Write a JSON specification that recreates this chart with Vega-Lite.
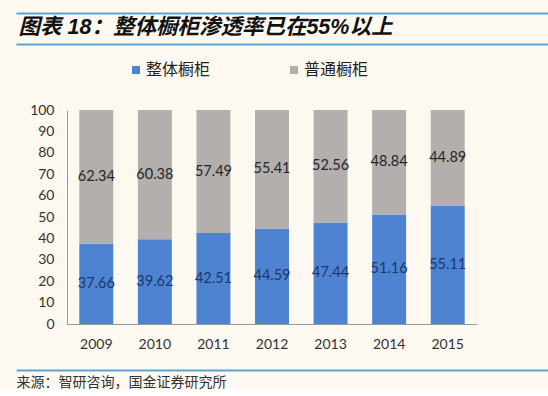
{
  "$schema": "https://vega.github.io/schema/vega-lite/v6.json",
  "background": "#fdf9f1",
  "padding": {"left": 16, "top": 13, "right": 0, "bottom": 0},
  "config": {"view": {"stroke": null}},
  "spacing": 18,
  "vconcat": [
    {
      "width": 532,
      "height": 31,
      "data": {"values": []},
      "mark": "rule",
      "encoding": {
        "y": {
          "field": "w", "type": "quantitative", "scale": {"domain": [0, 1]},
          "axis": {
            "values": [0, 1], "grid": true, "gridColor": "#55a6d6", "gridWidth": 2, "gridOpacity": 1,
            "labels": false, "ticks": false, "domain": false, "title": null,
            "minExtent": 0, "maxExtent": 0
          }
        },
        "x": {
          "field": "v", "type": "quantitative", "scale": {"domain": [0, 1]},
          "axis": {
            "orient": "bottom", "domain": false,
            "ticks": false, "labels": false, "grid": false,
            "title": "图表 18：整体橱柜渗透率已在55%以上",
            "titleAnchor": "start", "titleAlign": "left", "titleBaseline": "middle",
            "titleX": 2, "titleY": -17,
            "titleFont": "Liberation Sans, Noto Sans CJK SC", "titleFontSize": 21.5,
            "titleFontWeight": "bold", "titleFontStyle": "italic", "titleColor": "#111111"
          }
        }
      }
    },
    {
      "resolve": {"scale": {"color": "independent"}, "legend": {"color": "independent"}},
      "hconcat": [
        {
          "width": 461,
          "height": 214,
          "data": {
            "values": [
              {"year": "2009", "type": "整体橱柜", "value": 37.66},
              {"year": "2009", "type": "普通橱柜", "value": 62.34},
              {"year": "2010", "type": "整体橱柜", "value": 39.62},
              {"year": "2010", "type": "普通橱柜", "value": 60.38},
              {"year": "2011", "type": "整体橱柜", "value": 42.51},
              {"year": "2011", "type": "普通橱柜", "value": 57.49},
              {"year": "2012", "type": "整体橱柜", "value": 44.59},
              {"year": "2012", "type": "普通橱柜", "value": 55.41},
              {"year": "2013", "type": "整体橱柜", "value": 47.44},
              {"year": "2013", "type": "普通橱柜", "value": 52.56},
              {"year": "2014", "type": "整体橱柜", "value": 51.16},
              {"year": "2014", "type": "普通橱柜", "value": 48.84},
              {"year": "2015", "type": "整体橱柜", "value": 55.11},
              {"year": "2015", "type": "普通橱柜", "value": 44.89}
            ]
          },
          "encoding": {
            "x": {
              "field": "year", "type": "ordinal",
              "scale": {"range": [51, 461], "paddingInner": 0.42, "paddingOuter": 0.21},
              "axis": {
                "labelAngle": 0, "labelFont": "Lato", "labelFontSize": 14, "labelColor": "#333333",
                "labelPadding": 13, "ticks": false, "domainColor": "#9a9a9a", "domainWidth": 1,
                "title": null, "grid": false
              }
            }
          },
          "layer": [
            {
              "mark": {"type": "bar"},
              "encoding": {
                "y": {
                  "field": "value", "type": "quantitative", "stack": "zero",
                  "scale": {"domain": [0, 100]},
                  "axis": {
                    "values": [0, 10, 20, 30, 40, 50, 60, 70, 80, 90, 100],
                    "labelFont": "Lato", "labelFontSize": 14, "labelColor": "#333333",
                    "labelPadding": 13, "labelOverlap": false, "ticks": false, "domainColor": "#9a9a9a",
                    "grid": false, "title": null, "offset": -51
                  }
                },
                "order": {"field": "type", "sort": "ascending"},
                "color": {
                  "field": "type", "type": "nominal",
                  "scale": {"domain": ["整体橱柜", "普通橱柜"], "range": ["#4e83d2", "#b2afad"]},
                  "legend": {
                    "title": null, "orient": "none", "legendX": 112, "legendY": -48,
                    "direction": "horizontal", "symbolType": "square", "symbolSize": 64,
                    "symbolStrokeWidth": 0, "labelFont": "Noto Sans CJK SC", "labelFontSize": 16,
                    "labelColor": "#222222", "labelOffset": 2, "columnPadding": 75
                  }
                }
              }
            },
            {
              "transform": [
                {"stack": "value", "groupby": ["year"], "sort": [{"field": "type", "order": "ascending"}], "as": ["v0", "v1"]},
                {"calculate": "(datum.v0 + datum.v1) / 2", "as": "mid"}
              ],
              "mark": {"type": "text", "font": "Lato", "fontSize": 14.5},
              "encoding": {
                "y": {
                  "field": "mid", "type": "quantitative",
                  "axis": {
                    "values": [0, 10, 20, 30, 40, 50, 60, 70, 80, 90, 100],
                    "labelFont": "Lato", "labelFontSize": 14, "labelColor": "#333333",
                    "labelPadding": 13, "labelOverlap": false, "ticks": false, "domainColor": "#9a9a9a",
                    "grid": false, "title": null, "offset": -51
                  }
                },
                "text": {"field": "value", "type": "quantitative", "format": ".2f"},
                "color": {
                  "condition": {"test": "datum.type === '整体橱柜'", "value": "#1c3868"},
                  "value": "#262626"
                }
              }
            }
          ]
        }
      ]
    },
    {
      "width": 532,
      "height": 1,
      "data": {"values": []},
      "mark": "rule",
      "encoding": {
        "y": {"field": "w", "type": "quantitative", "scale": {"domain": [0, 1]}, "axis": null},
        "x": {
          "field": "v", "type": "quantitative", "scale": {"domain": [0, 1]},
          "axis": {
            "orient": "bottom", "domainColor": "#55a6d6", "domainWidth": 2,
            "ticks": false, "labels": false, "grid": false,
            "title": "来源：智研咨询，国金证券研究所",
            "titleAnchor": "start", "titleAlign": "left", "titlePadding": 5,
            "titleFont": "Noto Sans CJK SC", "titleFontSize": 14, "titleFontWeight": "normal",
            "titleColor": "#333333"
          }
        }
      }
    }
  ]
}
